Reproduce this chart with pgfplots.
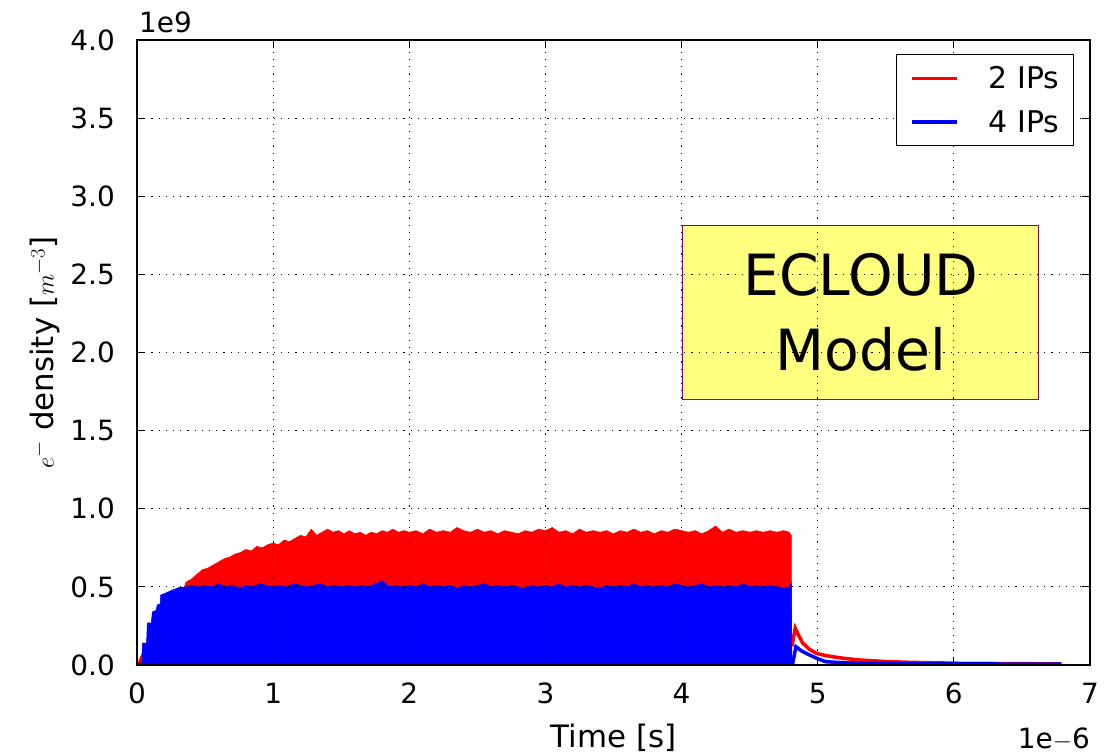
\documentclass[border=0pt]{standalone}
\usepackage{fontspec}
\setmainfont{DejaVu Sans}
\usepackage{pgfplots}
\pgfplotsset{compat=1.18}

\definecolor{boxfill}{RGB}{255,255,128}
\definecolor{boxedge}{RGB}{128,0,128}

\begin{document}
\begin{tikzpicture}
\begin{axis}[
  scale only axis,
  width=953bp, height=625bp,
  at={(0,0)}, anchor=south west,
  xmin=0, xmax=7, ymin=0, ymax=4,
  xtick={0,1,2,3,4,5,6,7},
  ytick={0,0.5,1,1.5,2,2.5,3,3.5,4},
  y tick label style={/pgf/number format/fixed, /pgf/number format/fixed zerofill,
    /pgf/number format/precision=1},
  /pgf/number format/assume math mode=true,
  ticklabel style={font=\fontsize{28}{34}\selectfont, inner sep=0pt},
  xticklabel style={anchor=north, yshift=-18bp},
  yticklabel style={anchor=east, xshift=-22bp},
  tick align=inside,
  major tick length=8bp,
  every tick/.style={black, line width=1bp},
  axis line style={line width=1.5bp},
  grid=major,
  major grid style={black, dash pattern=on 1.2bp off 6bp, line width=0.9bp},
  axis on top=true,
  clip=false,
  xlabel={Time [s]},
  ylabel={$e^-$ density [$m^{-3}$]},
  label style={font=\fontsize{31}{36}\selectfont},
  xlabel style={at={(rel axis cs:0.5,0)}, anchor=base, yshift=-82bp},
  ylabel style={at={(rel axis cs:0,0.5)}, anchor=center, yshift=92bp},
  legend style={font=\fontsize{30}{36}\selectfont, draw=black, line width=1.5bp,
    at={(1,1)}, anchor=north east, xshift=-16bp, yshift=-14bp,
    inner xsep=14bp, inner ysep=12bp, row sep=20bp,
    nodes={inner sep=0pt},
    /tikz/every odd column/.append style={column sep=30bp}},
  legend cell align=left,
  legend image code/.code={\draw[#1, line width=3.5bp] (0bp,0bp) -- (45bp,0bp);},
]

% 2 IPs, dense part drawn as its envelope
\addplot[draw=red, fill=red, line width=0.5bp, forget plot] coordinates {
(0,0) (0.05,0.10) (0.20,0.40) (0.34,0.48) (0.36,0.53) (0.40,0.55) (0.44,0.58)
(0.48,0.61) (0.52,0.62) (0.56,0.64) (0.60,0.66) (0.64,0.68) (0.68,0.69)
(0.72,0.71) (0.76,0.72) (0.80,0.74) (0.84,0.73) (0.88,0.76) (0.92,0.75)
(0.96,0.77) (1.00,0.78) (1.04,0.77) (1.08,0.80) (1.12,0.79) (1.16,0.81)
(1.20,0.83) (1.24,0.82) (1.28,0.87) (1.32,0.83) (1.36,0.85) (1.40,0.87)
(1.44,0.85) (1.48,0.86) (1.52,0.84) (1.56,0.86) (1.60,0.84) (1.64,0.85)
(1.68,0.83) (1.72,0.85) (1.76,0.84) (1.80,0.86) (1.84,0.85) (1.88,0.87)
(1.92,0.85) (1.96,0.86) (2.00,0.85) (2.05,0.86) (2.10,0.84) (2.15,0.87)
(2.20,0.85) (2.25,0.86) (2.30,0.85) (2.35,0.88) (2.40,0.86) (2.45,0.85)
(2.50,0.87) (2.55,0.85) (2.60,0.86) (2.65,0.84) (2.70,0.86) (2.75,0.85)
(2.80,0.84) (2.85,0.86) (2.90,0.85) (2.95,0.87) (3.00,0.86) (3.05,0.88)
(3.10,0.85) (3.15,0.86) (3.20,0.84) (3.25,0.87) (3.30,0.85) (3.35,0.86)
(3.40,0.85) (3.45,0.86) (3.50,0.84) (3.55,0.86) (3.60,0.85) (3.65,0.87)
(3.70,0.85) (3.75,0.86) (3.80,0.84) (3.85,0.86) (3.90,0.85) (3.95,0.87)
(4.00,0.86) (4.05,0.85) (4.10,0.86) (4.15,0.84) (4.20,0.86) (4.25,0.89)
(4.30,0.85) (4.35,0.87) (4.40,0.85) (4.45,0.86) (4.50,0.85) (4.55,0.86)
(4.60,0.85) (4.65,0.86) (4.70,0.85) (4.75,0.86) (4.79,0.85) (4.806,0.83)
(4.81,0)
} \closedcycle;

% 2 IPs, decay after the train
\addplot[red, line width=3.5bp] coordinates {
(4.81,0.12) (4.835,0.236) (4.86,0.19) (4.89,0.14) (4.94,0.10) (4.99,0.075)
(5.05,0.062) (5.11,0.053) (5.20,0.042) (5.31,0.032) (5.50,0.022) (5.68,0.017)
(6.04,0.011) (6.40,0.009) (6.79,0.007)
};
\addlegendentry{2 IPs}

% 4 IPs, dense part drawn as its envelope
\addplot[draw=blue, fill=blue, line width=0.5bp, forget plot] coordinates {
(0,0) (0.01,0.012) (0.035,0.015) (0.04,0.14) (0.07,0.14) (0.076,0.27)
(0.105,0.27) (0.113,0.34) (0.14,0.35) (0.149,0.385) (0.17,0.39) (0.174,0.448)
(0.21,0.46) (0.25,0.476) (0.31,0.497) (0.36,0.50) (0.40,0.51) (0.45,0.50)
(0.50,0.51) (0.55,0.50) (0.60,0.52) (0.65,0.50) (0.70,0.51) (0.75,0.49)
(0.80,0.51) (0.85,0.50) (0.90,0.52) (0.95,0.51) (1.00,0.50) (1.05,0.51)
(1.10,0.50) (1.15,0.52) (1.20,0.51) (1.25,0.50) (1.30,0.51) (1.35,0.52)
(1.40,0.50) (1.45,0.51) (1.50,0.50) (1.55,0.51) (1.60,0.50) (1.65,0.51)
(1.70,0.50) (1.75,0.52) (1.80,0.54) (1.85,0.50) (1.90,0.51) (1.95,0.50)
(2.00,0.51) (2.05,0.50) (2.10,0.52) (2.15,0.50) (2.20,0.51) (2.25,0.50)
(2.30,0.51) (2.35,0.49) (2.40,0.51) (2.45,0.50) (2.50,0.51) (2.55,0.52)
(2.60,0.50) (2.65,0.51) (2.70,0.50) (2.75,0.51) (2.80,0.50) (2.85,0.49)
(2.90,0.51) (2.95,0.50) (3.00,0.51) (3.05,0.50) (3.10,0.52) (3.15,0.50)
(3.20,0.51) (3.25,0.50) (3.30,0.51) (3.35,0.50) (3.40,0.49) (3.45,0.51)
(3.50,0.50) (3.55,0.51) (3.60,0.50) (3.65,0.52) (3.70,0.50) (3.75,0.51)
(3.80,0.50) (3.85,0.51) (3.90,0.50) (3.95,0.52) (4.00,0.51) (4.05,0.50)
(4.10,0.51) (4.15,0.52) (4.20,0.50) (4.25,0.51) (4.30,0.50) (4.35,0.51)
(4.40,0.50) (4.45,0.52) (4.50,0.50) (4.55,0.51) (4.60,0.50) (4.65,0.51)
(4.70,0.50) (4.75,0.49) (4.79,0.50) (4.806,0.52) (4.81,0)
} \closedcycle;

% 4 IPs, decay after the train
\addplot[blue, line width=3.5bp] coordinates {
(4.815,0.005) (4.84,0.117) (4.88,0.09) (4.94,0.064) (5.00,0.04) (5.06,0.021)
(5.20,0.014) (5.50,0.010) (6.00,0.008) (6.40,0.006) (6.79,0.005)
};
\addlegendentry{4 IPs}

\node[draw=boxedge, fill=boxfill, line width=1bp, minimum width=356bp,
  minimum height=174bp, align=center, inner sep=0pt,
  font=\fontsize{57}{75}\selectfont] at (axis cs:5.316,2.258) {ECLOUD\\Model};

\node[anchor=base west, inner sep=0pt, font=\fontsize{28}{34}\selectfont]
  at ([xshift=2bp, yshift=7bp]rel axis cs:0,1) {1e9};
\node[anchor=base east, inner sep=0pt, font=\fontsize{28}{34}\selectfont]
  at ([yshift=-83bp]rel axis cs:1,0) {1e$-$6};
\end{axis}
\pgfresetboundingbox
\path (-137bp,-90bp) rectangle (980bp,665bp);
\end{tikzpicture}
\end{document}
